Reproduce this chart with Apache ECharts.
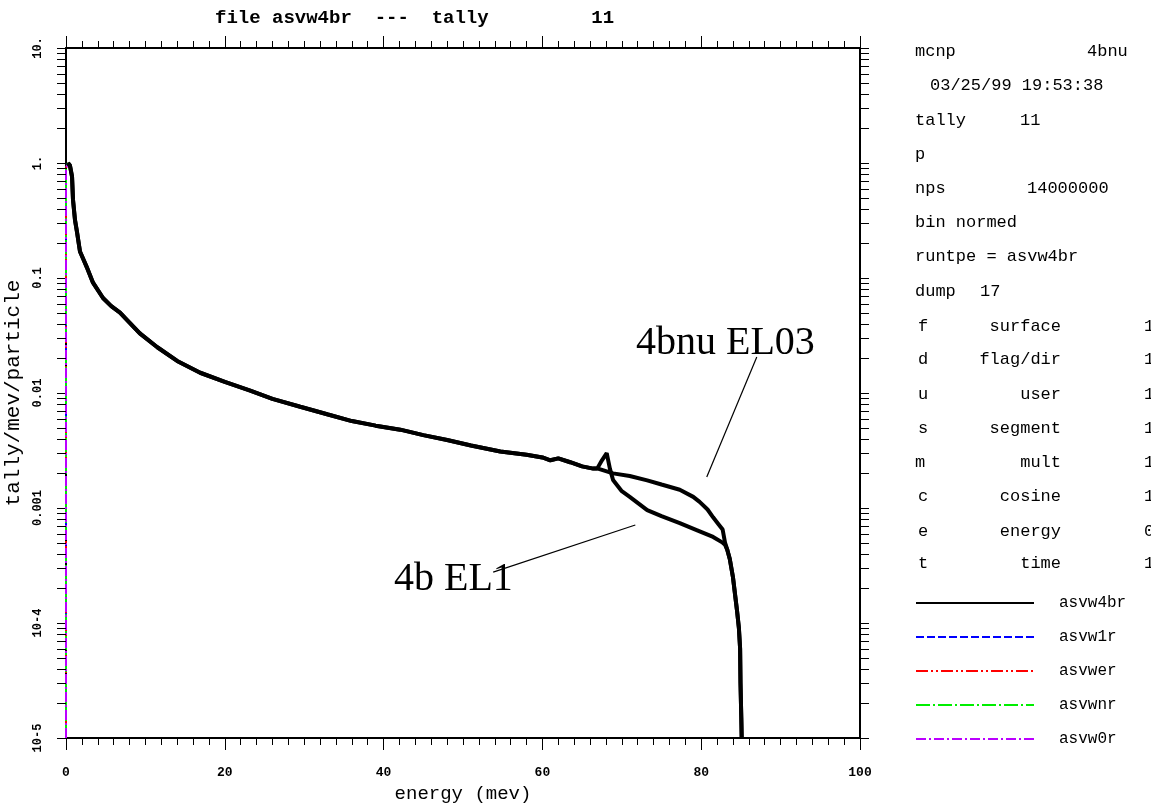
<!DOCTYPE html>
<html>
<head>
<meta charset="utf-8">
<script src="https://cdn.jsdelivr.net/npm/echarts@6/dist/echarts.min.js"></script>
<style>html,body{margin:0;padding:0;background:#fff;}#c{width:1151px;height:804px;}</style>
</head>
<body>
<div id="c"></div>
<script>
// ---- data ----
const energyCommon = [0.25, 0.5, 0.76, 0.88, 1.13, 1.39, 1.76, 2.2, 2.6, 3.4, 4.66, 5.7, 6.8, 8.0, 9.3, 11.5, 14.0, 16.9, 20.0, 23.2, 26.0, 29.5, 33.0, 36.0, 39.0, 42.1, 45.0, 48.0, 51.0, 54.7, 58.0, 60.0, 61.0, 62.0, 63.5, 65.0, 66.4];
const valuesCommon = [1.0, 0.95, 0.76, 0.48, 0.32, 0.25, 0.17, 0.145, 0.125, 0.091, 0.067, 0.057, 0.05, 0.041, 0.033, 0.025, 0.019, 0.015, 0.0125, 0.0105, 0.0089, 0.0076, 0.0065, 0.0057, 0.0052, 0.0048, 0.0043, 0.0039, 0.0035, 0.0031, 0.0029, 0.00275, 0.0026, 0.0027, 0.0025, 0.0023, 0.0022];
const energyEl03 = [67.0, 68.9, 71.0, 73.2, 75.0, 77.3, 79.0, 79.8, 80.8, 81.5, 82.2, 82.7, 83.0];
const valuesEl03 = [0.0022, 0.0020, 0.0019, 0.00174, 0.0016, 0.00144, 0.00125, 0.00113, 0.00097, 0.00083, 0.00072, 0.00065, 0.0005];
const energyEl1 = [66.9, 67.5, 68.1, 68.5, 68.9, 70.0, 71.0, 73.2, 75.0, 77.3, 79.5, 81.5, 82.7, 83.0];
const valuesEl1 = [0.0022, 0.0026, 0.0030, 0.0022, 0.00175, 0.0014, 0.00125, 0.00096, 0.00085, 0.00074, 0.00064, 0.00056, 0.0005, 0.00048];
const energyFall = [83.3, 83.6, 84.0, 84.5, 84.75, 84.9, 84.95, 85.05, 85.1];
const valuesFall = [0.00043, 0.00036, 0.00025, 0.00013, 0.00009, 0.00006, 0.00003, 0.000015, 0.00001];
const energyStart = [0, 0];
const valuesStart = [0.00001, 0.9];

const xTickLabels = ['0', '20', '40', '60', '80', '100'];
const yTickLabels = ['10-5', '10-4', '0.001', '0.01', '0.1', '1.', '10.'];
const legendNames = ['asvw4br', 'asvw1r', 'asvwer', 'asvwnr', 'asvw0r'];

// ---- build ----
const zip = (xs, ys) => xs.map((x, i) => [x, ys[i]]);
const dataEl03 = zip(energyCommon, valuesCommon).concat(zip(energyEl03, valuesEl03), zip(energyFall, valuesFall));
const dataEl1 = zip(energyCommon, valuesCommon).concat(zip(energyEl1, valuesEl1), zip(energyFall, valuesFall));
const dataColored = zip(energyStart, valuesStart).concat(dataEl03);

const yMinor = [];
for (let d = -5; d <= 0; d++) for (let k = 2; k <= 9; k++) yMinor.push(k * Math.pow(10, d));

const MONO = '"Liberation Mono", "DejaVu Sans Mono", monospace';
const SERIF = '"Liberation Serif", "DejaVu Serif", serif';

const chart = echarts.init(document.getElementById('c'), null, {renderer: 'canvas'});

const colored = [
  {name: 'asvw1r', color: '#0000ff', dash: [8, 3]},
  {name: 'asvwer', color: '#ff0000', dash: [12, 3, 2, 3, 2, 3]},
  {name: 'asvwnr', color: '#00ee00', dash: [14, 3, 2, 3]},
  {name: 'asvw0r', color: '#bb00ff', dash: [10, 3, 2, 3]}
];

const series = colored.map(c => ({
  name: c.name, type: 'line', data: dataColored, showSymbol: false, symbol: 'none',
  xAxisIndex: 0, yAxisIndex: 0, silent: true, z: 2,
  lineStyle: {color: c.color, width: 2, type: c.dash},
  itemStyle: {color: c.color}
}));

series.push({
  name: 'asvw4br', type: 'line', data: dataEl03, showSymbol: false, symbol: 'none',
  silent: true, z: 3, lineStyle: {color: '#000', width: 4, type: 'solid'}, itemStyle: {color: '#000'}
});
series.push({
  name: 'asvw4br', type: 'line', data: dataEl1, showSymbol: false, symbol: 'none',
  silent: true, z: 3, lineStyle: {color: '#000', width: 4, type: 'solid'}, itemStyle: {color: '#000'},
  markLine: {
    silent: true, symbol: 'none', label: {show: false},
    lineStyle: {color: '#000', width: 1.2, type: 'solid'},
    data: [
      [{coord: [87.0, 0.0206]}, {coord: [80.7, 0.00186]}],
      [{coord: [53.8, 0.000277]}, {coord: [71.7, 0.000711]}]
    ]
  }
});
series.push({
  type: 'custom', silent: true, clip: false, z: 6,
  data: yMinor.map(v => [0, v]),
  encode: {x: 0, y: 1},
  renderItem: (params, api) => {
    const v = api.value(1);
    const pl = api.coord([0, v]);
    const pr = api.coord([100, v]);
    const y = Math.round(pl[1]) + 0.5;
    return {type: 'group', children: [
      {type: 'line', shape: {x1: pl[0] - 9, y1: y, x2: pl[0], y2: y}, style: {stroke: '#000', lineWidth: 1}},
      {type: 'line', shape: {x1: pr[0], y1: y, x2: pr[0] + 9, y2: y}, style: {stroke: '#000', lineWidth: 1}}
    ]};
  }
});

const panelRows = [
  [['mcnp', 915, 'left'], ['4bnu', 1087, 'left']],
  [['03/25/99 19:53:38', 930, 'left']],
  [['tally', 915, 'left'], ['11', 1020, 'left']],
  [['p', 915, 'left']],
  [['nps', 915, 'left'], ['14000000', 1027, 'left']],
  [['bin normed', 915, 'left']],
  [['runtpe = asvw4br', 915, 'left']],
  [['dump', 915, 'left'], ['17', 980, 'left']],
  [['f', 918, 'left'], ['surface', 1061, 'right'], ['1', 1144, 'left']],
  [['d', 918, 'left'], ['flag/dir', 1061, 'right'], ['1', 1144, 'left']],
  [['u', 918, 'left'], ['user', 1061, 'right'], ['1', 1144, 'left']],
  [['s', 918, 'left'], ['segment', 1061, 'right'], ['1', 1144, 'left']],
  [['m', 915, 'left'], ['mult', 1061, 'right'], ['1', 1144, 'left']],
  [['c', 918, 'left'], ['cosine', 1061, 'right'], ['1', 1144, 'left']],
  [['e', 918, 'left'], ['energy', 1061, 'right'], ['0', 1144, 'left']],
  [['t', 918, 'left'], ['time', 1061, 'right'], ['1', 1144, 'left']]
];
const rowY = [51, 85, 120, 154, 188, 222, 256, 291, 326, 359, 394, 428, 462, 496, 531, 563];

const graphics = [];
panelRows.forEach((row, i) => {
  row.forEach(([t, x, al]) => {
    graphics.push({type: 'text', x: x, y: rowY[i], silent: true,
      style: {text: t, font: '17px ' + MONO, fill: '#000', textAlign: al, textVerticalAlign: 'middle', align: al, verticalAlign: 'middle'}});
  });
});
graphics.push({type: 'text', x: 215, y: 18, silent: true,
  style: {text: 'file asvw4br  ---  tally         11', font: 'bold 19px ' + MONO, fill: '#000', textAlign: 'left', textVerticalAlign: 'middle', align: 'left', verticalAlign: 'middle'}});
graphics.push({type: 'text', x: 636, y: 343, silent: true,
  style: {text: '4bnu EL03', font: '40px ' + SERIF, fill: '#000', textAlign: 'left', textVerticalAlign: 'middle', align: 'left', verticalAlign: 'middle'}});
graphics.push({type: 'text', x: 394, y: 579, silent: true,
  style: {text: '4b EL1', font: '40px ' + SERIF, fill: '#000', textAlign: 'left', textVerticalAlign: 'middle', align: 'left', verticalAlign: 'middle'}});

const xBase = {
  type: 'value', min: 0, max: 100, interval: 20,
  axisLine: {show: true, onZero: false, lineStyle: {color: '#000', width: 2}},
  axisTick: {show: true, inside: false, length: 12, lineStyle: {color: '#000', width: 1}},
  minorTick: {show: true, splitNumber: 10, length: 7, lineStyle: {color: '#000', width: 1}},
  splitLine: {show: false}, minorSplitLine: {show: false}
};
const yBase = {
  type: 'log', logBase: 10, min: 0.00001, max: 10, splitNumber: 6,
  axisLine: {show: true, onZero: false, lineStyle: {color: '#000', width: 2}},
  axisTick: {show: true, inside: false, length: 9, lineStyle: {color: '#000', width: 1}},
  splitLine: {show: false}
};

chart.setOption({
  animation: false,
  backgroundColor: '#fff',
  grid: {left: 66, right: 291, top: 48, bottom: 66, containLabel: false, outerBoundsMode: 'none'},
  legend: {
    data: legendNames, orient: 'vertical', left: 915, top: 595,
    itemWidth: 118, itemHeight: 14, itemGap: 18, padding: 0,
    selectedMode: false,
    itemStyle: {color: 'transparent', borderColor: 'transparent', borderWidth: 0, opacity: 0},
    textStyle: {fontFamily: MONO, fontSize: 16, color: '#000', padding: [0, 0, 0, 20]}
  },
  xAxis: [
    Object.assign({}, xBase, {
      position: 'bottom',
      name: 'energy (mev)', nameLocation: 'middle', nameGap: 46,
      nameTextStyle: {fontFamily: MONO, fontSize: 19, color: '#000'},
      axisLabel: {show: true, margin: 28, fontFamily: MONO, fontSize: 13, fontWeight: 'bold', color: '#000',
        formatter: v => xTickLabels[Math.round(v / 20)]}
    }),
    Object.assign({}, xBase, {position: 'top', axisLabel: {show: false}})
  ],
  yAxis: [
    Object.assign({}, yBase, {
      position: 'left',
      name: 'tally/mev/particle', nameLocation: 'middle', nameGap: 32, nameRotate: 90,
      nameTextStyle: {fontFamily: MONO, fontSize: 21, color: '#000'},
      axisLabel: {show: true, rotate: 90, margin: 22, fontFamily: MONO, fontSize: 12, fontWeight: 'bold', color: '#000',
        formatter: v => yTickLabels[Math.round(Math.log10(v)) + 5]}
    }),
    Object.assign({}, yBase, {position: 'right', axisLabel: {show: false}})
  ],
  series: series,
  graphic: graphics
});
</script>
</body>
</html>
